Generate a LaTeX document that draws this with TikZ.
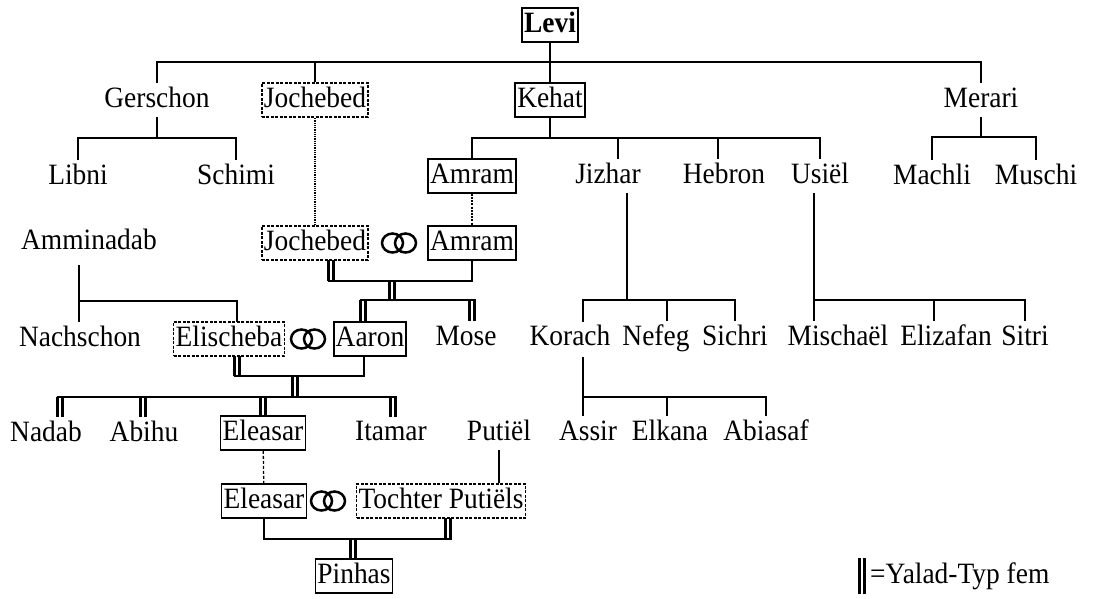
\documentclass[tikz,border=0pt]{standalone}
\usepackage{fontspec}
\setmainfont[FakeStretch=0.93]{Liberation Serif}
\usetikzlibrary{calc}
\tikzset{
  every node/.style={font=\fontsize{29.5}{32}\selectfont, minimum height=34pt, inner xsep=2pt, inner ysep=1pt, text height=20.5pt, text depth=6.5pt},
  pbox/.style={draw, line width=1.6pt},
  dbox/.style={draw, line width=1.6pt, dash pattern=on 3pt off 1.5pt},
  ln/.style={line width=1.8pt},
  lnthin/.style={line width=1.2pt},
  dl/.style={line width=2.5pt},
  dotthin/.style={line width=1.2pt, dash pattern=on 1pt off 0.8pt},
  dotthick/.style={line width=2.2pt, dash pattern=on 2pt off 1.2pt},
  dotmid/.style={line width=1.3pt, dash pattern=on 3pt off 2pt},
  rings/.pic={\draw[line width=2.5pt] (-6.5,0) ellipse [x radius=10.5pt, y radius=9.5pt];
              \draw[line width=2.5pt] (6.5,0) ellipse [x radius=10.5pt, y radius=9.5pt];}
}
\newcommand\dbar[2]{\draw[dl] ($(#1)+(-2.3,0)$) -- ($(#2)+(-2.3,0)$);\draw[dl] ($(#1)+(2.3,0)$) -- ($(#2)+(2.3,0)$);}
\begin{document}
\begin{tikzpicture}[x=1pt,y=-1pt]
\useasboundingbox (0,0) rectangle (1094,598);
% ---- nodes
\node[pbox,font=\fontsize{29.5}{32}\selectfont\bfseries] (levi) at (550,25) {Levi};
\node (ger) at (157,100) {Gerschon};
\node[dbox] (joch1) at (315,100) {Jochebed};
\node[pbox] (kehat) at (550,100) {Kehat};
\node (merari) at (981,100) {Merari};
\node (libni) at (78,177) {Libni};
\node (schimi) at (236,177) {Schimi};
\node[pbox] (amram1) at (472,176) {Amram};
\node (jizhar) at (608,176) {Jizhar};
\node (hebron) at (724,176) {Hebron};
\node (usiel) at (820,176) {Usiël};
\node (machli) at (932,177) {Machli};
\node (muschi) at (1036,177) {Muschi};
\node (amm) at (89,242) {Amminadab};
\node[dbox] (joch2) at (315,243) {Jochebed};
\node[pbox] (amram2) at (472,243) {Amram};
\pic at (399,243) {rings};
\node (nach) at (80,339) {Nachschon};
\node[dbox] (elis) at (229,339) {Elischeba};
\pic at (308,339) {rings};
\node[pbox] (aaron) at (370,339) {Aaron};
\node (mose) at (466,338) {Mose};
\node (korach) at (570,338) {Korach};
\node (nefeg) at (656,338) {Nefeg};
\node (sichri) at (735,338) {Sichri};
\node (mischael) at (838,338) {Mischaël};
\node (elizafan) at (946,338) {Elizafan};
\node (sitri) at (1025,338) {Sitri};
\node (nadab) at (46,434) {Nadab};
\node (abihu) at (144,434) {Abihu};
\node[pbox] (eleasar1) at (263,433) {Eleasar};
\node (itamar) at (391,433) {Itamar};
\node (putiel) at (499,433) {Putiël};
\node (assir) at (588,433) {Assir};
\node (elkana) at (670,433) {Elkana};
\node (abiasaf) at (766,433) {Abiasaf};
\node[pbox] (eleasar2) at (264,501) {Eleasar};
\pic at (328,501) {rings};
\node[dbox] (tochter) at (441,501) {Tochter Putiëls};
\node[pbox] (pinhas) at (354,576) {Pinhas};
\node[anchor=west, inner xsep=0pt] (legend) at (870,576) {=Yalad-Typ fem};
% ---- Levi
\coordinate (b0) at (550,62);
\draw[ln] (ger.north) |- (b0) -| (merari.north);
\draw[ln] (levi) -- (kehat);
\draw[lnthin] (joch1.north) -- (joch1.north |- b0);
% ---- Gerschon
\coordinate (g1) at (157,138);
\draw[ln] (ger.south) -- (g1);
\draw[ln] (libni.north) |- (g1) -| (schimi.north);
% ---- Merari
\coordinate (m1) at (981,137);
\draw[ln] (merari.south) -- (m1);
\draw[ln] (machli.north) |- (m1) -| (muschi.north);
% ---- Kehat
\coordinate (k1) at (550,138);
\coordinate (kj) at (618,138);
\coordinate (kh) at (718,138);
\draw[ln] (kehat) -- (k1);
\draw[ln] (amram1.north) |- (k1) -| (usiel.north);
\draw[ln] (kj) -- (kj |- jizhar.north);
\draw[ln] (kh) -- (kh |- hebron.north);
% ---- dotted identity links
\draw[dotthin] (joch1) -- (joch2);
\draw[dotthick] (amram1) -- (amram2);
\draw[dotmid] (eleasar1) -- (eleasar2);
% ---- Jochebed + Amram
\coordinate (jd1) at (331,260);
\coordinate (jd2) at (331,281);
\coordinate (ja) at (392,281);
\coordinate (jb) at (392,300);
\dbar{jd1}{jd2}
\draw[ln] ($(jd2)+(-3.5,0)$) -| (amram2.south);
\dbar{ja}{jb}
\coordinate (ad) at (363,300);
\coordinate (ad2) at (363,322);
\coordinate (md) at (472,300);
\coordinate (md2) at (472,321);
\dbar{ad}{ad2}
\dbar{md}{md2}
\draw[ln] ($(ad)+(-3.5,0)$) -- ($(md)+(3.5,0)$);
% ---- Amminadab
\coordinate (a0) at (79,265);
\coordinate (a1) at (79,322);
\coordinate (an) at (79,301);
\coordinate (ae) at (237,322);
\draw[lnthin] (a0) -- (a1);
\draw[ln] (an) -| (ae);
% ---- Elischeba + Aaron
\coordinate (ed1) at (237,356);
\coordinate (ed2) at (237,376);
\coordinate (ea) at (295,376);
\coordinate (eb) at (295,397);
\coordinate (as) at (364,356);
\dbar{ed1}{ed2}
\draw[ln] ($(ed2)+(-3.5,0)$) -| (as);
\dbar{ea}{eb}
\coordinate (n1) at (60,397);  \coordinate (n1b) at (60,417);
\coordinate (n2) at (143,397); \coordinate (n2b) at (143,417);
\coordinate (n3) at (263,397); \coordinate (n3b) at (263,416);
\coordinate (n4) at (393,397); \coordinate (n4b) at (393,417);
\dbar{n1}{n1b}
\dbar{n2}{n2b}
\dbar{n3}{n3b}
\dbar{n4}{n4b}
\draw[ln] ($(n1)+(-3.5,0)$) -- ($(n4)+(3.5,0)$);
% ---- Eleasar + Tochter Putiels
\draw[ln] (putiel.south) -- (putiel.south |- tochter.north);
\coordinate (td1) at (448,518);
\coordinate (td2) at (448,539);
\coordinate (pd1) at (353,539);
\coordinate (pd2) at (353,560);
\dbar{td1}{td2}
\dbar{pd1}{pd2}
\draw[ln] (eleasar2.south) |- ($(td2)+(3.5,0)$);
% ---- Jizhar
\coordinate (jz1) at (627,193);
\coordinate (jz2) at (627,300);
\coordinate (kc) at (583,322);
\coordinate (nf) at (667,300);
\draw[ln] (jz1) -- (jz2);
\draw[ln] (kc) |- (jz2) -| (sichri.north);
\draw[ln] (nf) -- (nf |- nefeg.north);
% ---- Korach
\coordinate (kr1) at (583,357);
\coordinate (kr2) at (583,397);
\coordinate (ke) at (667,397);
\draw[ln] (kr1) -- (kr2);
\draw[ln] (assir.north -| kr2) |- (kr2) -| (abiasaf.north);
\draw[ln] (ke) -- (ke |- elkana.north);
% ---- Usiel
\coordinate (u1) at (814,193);
\coordinate (u2) at (814,300);
\coordinate (ue) at (934,300);
\draw[ln] (u1) -- (mischael.north -| u1);
\draw[ln] (u2) -| (sitri.north);
\draw[ln] (ue) -- (ue |- elizafan.north);
% ---- legend
\coordinate (lg1) at (862,558);
\coordinate (lg2) at (862,594);
\dbar{lg1}{lg2}
\end{tikzpicture}
\end{document}
